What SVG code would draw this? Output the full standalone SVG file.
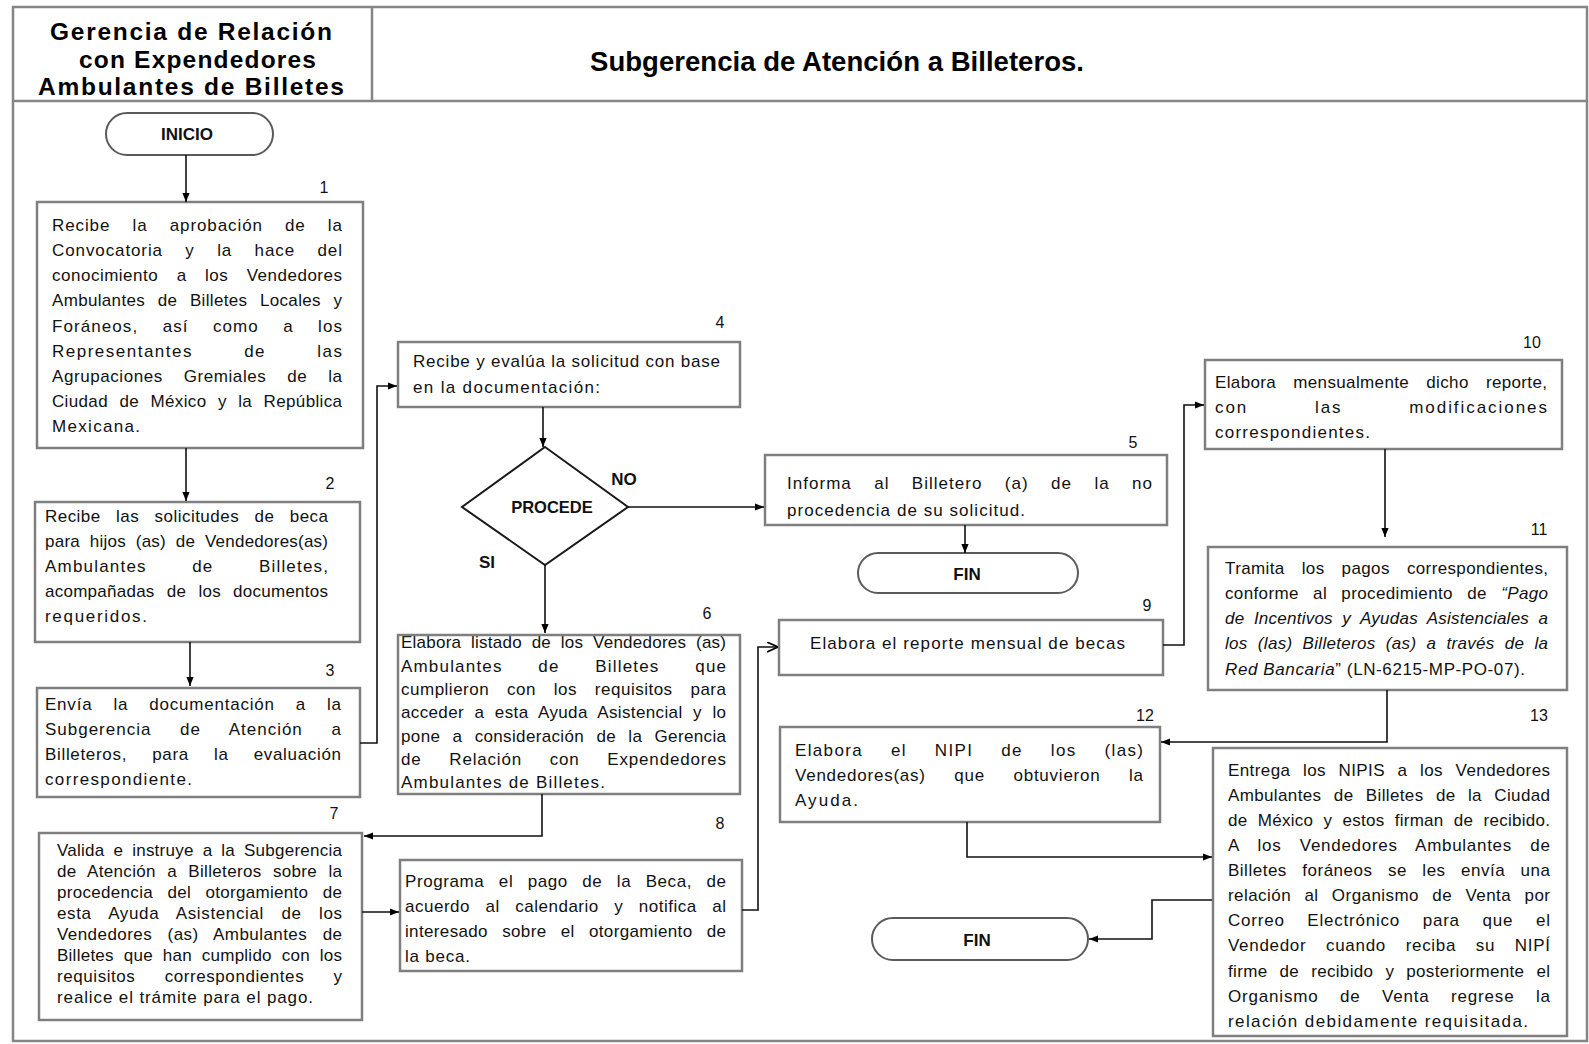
<svg xmlns="http://www.w3.org/2000/svg" width="1589" height="1044" viewBox="0 0 1589 1044">
<style>
.frame{fill:none;stroke:#868686;stroke-width:2.5}
.box{fill:#fff;stroke:#7f7f7f;stroke-width:2.5}
.boxs{fill:none;stroke:#7f7f7f;stroke-width:2.5}
.term{fill:#fff;stroke:#5a5a5a;stroke-width:2}
.dia{fill:#fff;stroke:#1a1a1a;stroke-width:2}
.conn{fill:none;stroke:#111;stroke-width:1.6}
.hdr{font-family:"Liberation Sans",Arial,sans-serif;font-weight:bold;font-size:27.5px;fill:#000}
.hdl{font-family:"Liberation Sans",Arial,sans-serif;font-weight:bold;font-size:24.5px;fill:#000}
.t{font-family:"Liberation Sans",Arial,sans-serif;font-size:17px;fill:#111}
.num{font-family:"Liberation Sans",Arial,sans-serif;font-size:16px;fill:#111;text-anchor:middle}
.lbl{font-family:"Liberation Sans",Arial,sans-serif;font-weight:bold;font-size:17px;fill:#111;text-anchor:middle}
.it{font-style:italic}
</style>
<defs>
<marker id="ah" viewBox="0 0 10 10" refX="10" refY="5" markerWidth="9" markerHeight="9" markerUnits="userSpaceOnUse" orient="auto"><path d="M0,1 L10,5 L0,9 z" fill="#000"/></marker>
<marker id="ao" viewBox="0 0 10 10" refX="10" refY="5" markerWidth="11" markerHeight="11" markerUnits="userSpaceOnUse" orient="auto"><path d="M0,0.5 L10,5 L0,9.5" fill="none" stroke="#000" stroke-width="1.5"/></marker>
</defs>
<rect width="1589" height="1044" fill="#fff"/>
<g id="header">
<rect class="frame" x="13" y="7" width="1574" height="1034"/>
<line class="frame" x1="13" y1="101" x2="1587" y2="101"/>
<line class="frame" x1="372" y1="7" x2="372" y2="101"/>
<text class="hdl" x="50" y="40" textLength="282" lengthAdjust="spacing">Gerencia de Relación</text>
<text class="hdl" x="79" y="68" textLength="237" lengthAdjust="spacing">con Expendedores</text>
<text class="hdl" x="38" y="95" textLength="306" lengthAdjust="spacing">Ambulantes de Billetes</text>
<text class="hdr" x="590" y="71" textLength="494" lengthAdjust="spacing">Subgerencia de Atención a Billeteros.</text>
</g>
<g id="inicio">
<rect class="term" x="106" y="113" width="167" height="42" rx="21"/>
<text class="lbl" x="187" y="140">INICIO</text>
</g>
<g id="n1">
<rect class="box" x="37" y="202" width="326" height="246"/>
<text class="num" x="324" y="193">1</text>
<text class="t" x="52" y="231" textLength="290" lengthAdjust="spacing" word-spacing="16.5">Recibe la aprobación de la</text>
<text class="t" x="52" y="256" textLength="290" lengthAdjust="spacing" word-spacing="16.8">Convocatoria y la hace del</text>
<text class="t" x="52" y="281" textLength="290" lengthAdjust="spacing" word-spacing="13.2">conocimiento a los Vendedores</text>
<text class="t" x="52" y="306" textLength="290" lengthAdjust="spacing" word-spacing="7.6">Ambulantes de Billetes Locales y</text>
<text class="t" x="52" y="332" textLength="290" lengthAdjust="spacing" word-spacing="18.6">Foráneos, así como a los</text>
<text class="t" x="52" y="357" textLength="290" lengthAdjust="spacing" word-spacing="45">Representantes de las</text>
<text class="t" x="52" y="382" textLength="290" lengthAdjust="spacing" word-spacing="15.6">Agrupaciones Gremiales de la</text>
<text class="t" x="52" y="407" textLength="290" lengthAdjust="spacing" word-spacing="6.4">Ciudad de México y la República</text>
<text class="t" x="52" y="432" textLength="88" lengthAdjust="spacing">Mexicana.</text>
</g>
<g id="n2">
<rect class="box" x="35" y="502" width="325" height="140"/>
<text class="num" x="330" y="489">2</text>
<text class="t" x="45" y="522" textLength="283" lengthAdjust="spacing" word-spacing="10.2">Recibe las solicitudes de beca</text>
<text class="t" x="45" y="547" textLength="283" lengthAdjust="spacing" word-spacing="4.9">para hijos (as) de Vendedores(as)</text>
<text class="t" x="45" y="572" textLength="283" lengthAdjust="spacing" word-spacing="39.5">Ambulantes de Billetes,</text>
<text class="t" x="45" y="597" textLength="283" lengthAdjust="spacing" word-spacing="7.2">acompañadas de los documentos</text>
<text class="t" x="45" y="622" textLength="102" lengthAdjust="spacing">requeridos.</text>
</g>
<g id="n3">
<rect class="box" x="37" y="688" width="323" height="109"/>
<text class="num" x="330" y="676">3</text>
<text class="t" x="45" y="710" textLength="296" lengthAdjust="spacing" word-spacing="15.5">Envía la documentación a la</text>
<text class="t" x="45" y="735" textLength="296" lengthAdjust="spacing" word-spacing="23">Subgerencia de Atención a</text>
<text class="t" x="45" y="760" textLength="296" lengthAdjust="spacing" word-spacing="19.7">Billeteros, para la evaluación</text>
<text class="t" x="45" y="785" textLength="147" lengthAdjust="spacing">correspondiente.</text>
</g>
<g id="n7">
<rect class="box" x="39" y="833" width="323" height="187"/>
<text class="num" x="334" y="819">7</text>
<text class="t" x="57" y="856" textLength="285" lengthAdjust="spacing" word-spacing="4">Valida e instruye a la Subgerencia</text>
<text class="t" x="57" y="877" textLength="285" lengthAdjust="spacing" word-spacing="6.2">de Atención a Billeteros sobre la</text>
<text class="t" x="57" y="898" textLength="285" lengthAdjust="spacing" word-spacing="9.4">procedencia del otorgamiento de</text>
<text class="t" x="57" y="919" textLength="285" lengthAdjust="spacing" word-spacing="12">esta Ayuda Asistencial de los</text>
<text class="t" x="57" y="940" textLength="285" lengthAdjust="spacing" word-spacing="10.3">Vendedores (as) Ambulantes de</text>
<text class="t" x="57" y="961" textLength="285" lengthAdjust="spacing" word-spacing="4.9">Billetes que han cumplido con los</text>
<text class="t" x="57" y="982" textLength="285" lengthAdjust="spacing" word-spacing="24">requisitos correspondientes y</text>
<text class="t" x="57" y="1003" textLength="256" lengthAdjust="spacing">realice el trámite para el pago.</text>
</g>
<g id="n4">
<rect class="box" x="398" y="342" width="342" height="65"/>
<text class="num" x="720" y="328">4</text>
<text class="t" x="413" y="367" textLength="307" lengthAdjust="spacing">Recibe y evalúa la solicitud con base</text>
<text class="t" x="413" y="393" textLength="187" lengthAdjust="spacing">en la documentación:</text>
</g>
<g id="decision">
<polygon class="dia" points="545,447 628,507 545,565 462,507"/>
<text class="lbl" x="552" y="513" style="font-size:16.5px">PROCEDE</text>
<text class="lbl" x="624" y="485">NO</text>
<text class="lbl" x="487" y="568">SI</text>
</g>
<g id="n5">
<rect class="box" x="765" y="455" width="402" height="70"/>
<text class="num" x="1133" y="448">5</text>
<text class="t" x="787" y="489" textLength="365" lengthAdjust="spacing" word-spacing="16.6">Informa al Billetero (a) de la no</text>
<text class="t" x="787" y="516" textLength="238" lengthAdjust="spacing">procedencia de su solicitud.</text>
</g>
<g id="fin1">
<rect class="term" x="858" y="553" width="220" height="40" rx="20"/>
<text class="lbl" x="967" y="580">FIN</text>
</g>
<g id="n6">
<rect x="398" y="633" width="342" height="161" fill="#fff"/>
<text class="num" x="707" y="619">6</text>
<text class="t" x="401" y="648" textLength="325" lengthAdjust="spacing" word-spacing="4.8">Elabora listado de los Vendedores (as)</text>
<text class="t" x="401" y="672" textLength="325" lengthAdjust="spacing" word-spacing="29.8">Ambulantes de Billetes que</text>
<text class="t" x="401" y="695" textLength="325" lengthAdjust="spacing" word-spacing="12.6">cumplieron con los requisitos para</text>
<text class="t" x="401" y="718" textLength="325" lengthAdjust="spacing" word-spacing="5.4">acceder a esta Ayuda Asistencial y lo</text>
<text class="t" x="401" y="742" textLength="325" lengthAdjust="spacing" word-spacing="7.2">pone a consideración de la Gerencia</text>
<text class="t" x="401" y="765" textLength="325" lengthAdjust="spacing" word-spacing="22.2">de Relación con Expendedores</text>
<text class="t" x="401" y="788" textLength="204" lengthAdjust="spacing">Ambulantes de Billetes.</text>
<rect class="boxs" x="398" y="635" width="342" height="159"/>
</g>
<g id="n8">
<rect class="box" x="400" y="860" width="342" height="111"/>
<text class="num" x="720" y="829">8</text>
<text class="t" x="405" y="887" textLength="321" lengthAdjust="spacing" word-spacing="9.1">Programa el pago de la Beca, de</text>
<text class="t" x="405" y="912" textLength="321" lengthAdjust="spacing" word-spacing="10.3">acuerdo al calendario y notifica al</text>
<text class="t" x="405" y="937" textLength="321" lengthAdjust="spacing" word-spacing="9.2">interesado sobre el otorgamiento de</text>
<text class="t" x="405" y="962" textLength="65" lengthAdjust="spacing">la beca.</text>
</g>
<g id="n9">
<rect class="box" x="779" y="620" width="384" height="55"/>
<text class="num" x="1147" y="611">9</text>
<text class="t" x="810" y="649" textLength="315" lengthAdjust="spacing">Elabora el reporte mensual de becas</text>
</g>
<g id="n10">
<rect class="box" x="1205" y="360" width="357" height="89"/>
<text class="num" x="1532" y="348">10</text>
<text class="t" x="1215" y="388" textLength="332" lengthAdjust="spacing" word-spacing="12.1">Elabora mensualmente dicho reporte,</text>
<text class="t" x="1215" y="413" textLength="332" lengthAdjust="spacing" word-spacing="60">con las modificaciones</text>
<text class="t" x="1215" y="438" textLength="155" lengthAdjust="spacing">correspondientes.</text>
</g>
<g id="n11">
<rect class="box" x="1208" y="547" width="359" height="143"/>
<text class="num" x="1539" y="535">11</text>
<text class="t" x="1225" y="574" textLength="323" lengthAdjust="spacing" word-spacing="12">Tramita los pagos correspondientes,</text>
<text class="t" x="1225" y="599" textLength="323" lengthAdjust="spacing" word-spacing="9.2">conforme al procedimiento de <tspan class="it">“Pago</tspan></text>
<text class="t it" x="1225" y="624" textLength="323" lengthAdjust="spacing" word-spacing="4.5">de Incentivos y Ayudas Asistenciales a</text>
<text class="t it" x="1225" y="649" textLength="323" lengthAdjust="spacing" word-spacing="5.1">los (las) Billeteros (as) a través de la</text>
<text class="t" x="1225" y="675" textLength="300" lengthAdjust="spacing"><tspan class="it">Red Bancaria</tspan>” (LN-6215-MP-PO-07).</text>
</g>
<g id="n12">
<rect class="box" x="780" y="727" width="380" height="95"/>
<text class="num" x="1145" y="721">12</text>
<text class="t" x="795" y="756" textLength="348" lengthAdjust="spacing" word-spacing="21.9">Elabora el NIPI de los (las)</text>
<text class="t" x="795" y="781" textLength="348" lengthAdjust="spacing" word-spacing="23">Vendedores(as) que obtuvieron la</text>
<text class="t" x="795" y="806" textLength="63" lengthAdjust="spacing">Ayuda.</text>
</g>
<g id="n13">
<rect class="box" x="1213" y="748" width="354" height="288"/>
<text class="num" x="1539" y="721">13</text>
<text class="t" x="1228" y="776" textLength="322" lengthAdjust="spacing" word-spacing="7.5">Entrega los NIPIS a los Vendedores</text>
<text class="t" x="1228" y="801" textLength="322" lengthAdjust="spacing" word-spacing="7.3">Ambulantes de Billetes de la Ciudad</text>
<text class="t" x="1228" y="826" textLength="322" lengthAdjust="spacing" word-spacing="5.2">de México y estos firman de recibido.</text>
<text class="t" x="1228" y="851" textLength="322" lengthAdjust="spacing" word-spacing="13">A los Vendedores Ambulantes de</text>
<text class="t" x="1228" y="876" textLength="322" lengthAdjust="spacing" word-spacing="10.2">Billetes foráneos se les envía una</text>
<text class="t" x="1228" y="901" textLength="322" lengthAdjust="spacing" word-spacing="8.2">relación al Organismo de Venta por</text>
<text class="t" x="1228" y="926" textLength="322" lengthAdjust="spacing" word-spacing="17.2">Correo Electrónico para que el</text>
<text class="t" x="1228" y="951" textLength="322" lengthAdjust="spacing" word-spacing="14.3">Vendedor cuando reciba su NIPÍ</text>
<text class="t" x="1228" y="977" textLength="322" lengthAdjust="spacing" word-spacing="7">firme de recibido y posteriormente el</text>
<text class="t" x="1228" y="1002" textLength="322" lengthAdjust="spacing" word-spacing="16">Organismo de Venta regrese la</text>
<text class="t" x="1228" y="1027" textLength="300" lengthAdjust="spacing">relación debidamente requisitada.</text>
</g>
<g id="fin2">
<rect class="term" x="872" y="918" width="216" height="42" rx="21"/>
<text class="lbl" x="977" y="946">FIN</text>
</g>
<g id="connectors">
<path class="conn" d="M186,155 V202" marker-end="url(#ah)"/>
<path class="conn" d="M186,448 V501" marker-end="url(#ah)"/>
<path class="conn" d="M190,642 V686" marker-end="url(#ah)"/>
<path class="conn" d="M360,743 H377 V386 H397" marker-end="url(#ah)"/>
<path class="conn" d="M543,407 V447" marker-end="url(#ah)"/>
<path class="conn" d="M628,507 H764" marker-end="url(#ah)"/>
<path class="conn" d="M545,565 V633" marker-end="url(#ah)"/>
<path class="conn" d="M965,525 V553" marker-end="url(#ah)"/>
<path class="conn" d="M542,794 V836 H364" marker-end="url(#ah)"/>
<path class="conn" d="M362,912 H399" marker-end="url(#ah)"/>
<path class="conn" d="M742,910 H758 V647 H778" marker-end="url(#ao)"/>
<path class="conn" d="M1163,645 H1184 V405 H1204" marker-end="url(#ah)"/>
<path class="conn" d="M1385,449 V537" marker-end="url(#ah)"/>
<path class="conn" d="M1387,690 V742 H1161" marker-end="url(#ah)"/>
<path class="conn" d="M967,822 V857 H1212" marker-end="url(#ah)"/>
<path class="conn" d="M1212,900 H1152 V939 H1089" marker-end="url(#ah)"/>
</g>
</svg>
